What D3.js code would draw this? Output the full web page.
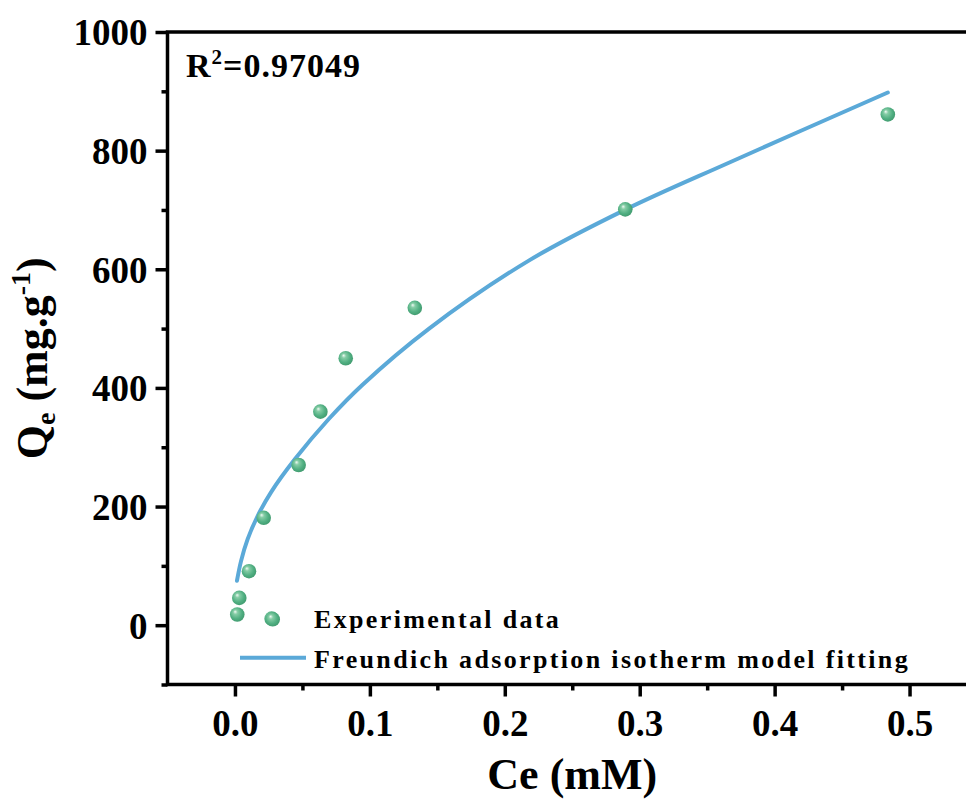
<!DOCTYPE html>
<html>
<head>
<meta charset="utf-8">
<script src="https://cdn.jsdelivr.net/npm/d3@7"></script>
<style>
  html, body { margin: 0; padding: 0; background: #fff; }
  svg { display: block; font-family: "Liberation Serif", "Times New Roman", serif; font-weight: bold; }
</style>
</head>
<body>
<div id="chart"></div>
<script>
// experimental points (Ce in mM, Qe in mg/g)
const expCe = [0.0017, 0.0032, 0.0104, 0.0213, 0.0272, 0.0472, 0.0633, 0.0821, 0.1333, 0.2893, 0.4839];
const expQe = [18, 46, 91, 181, 11, 270, 360, 450, 535, 701, 861];

// Freundlich fit curve
const fitCe = [0.0015, 0.0045, 0.0094, 0.0168, 0.0267, 0.0445, 0.0697, 0.0944, 0.1439, 0.2181, 0.2898, 0.3665, 0.4839];
const fitQe = [75, 108, 145, 184, 224, 280, 348, 405, 500, 615, 701, 780, 898];

const xTicks = [0.0, 0.1, 0.2, 0.3, 0.4, 0.5];
const yTicks = [0, 200, 400, 600, 800, 1000];
const xMinor = [0.05, 0.15, 0.25, 0.35, 0.45];
const yMinor = [-100, 100, 300, 500, 700, 900];

const legendLabels = ['Experimental data', 'Freundich adsorption isotherm model fitting'];

const width = 966, height = 801;
const plotL = 167.5, plotR = 977, plotT = 32, plotB = 684.5;

const lineColor = '#5ba9d8';

const svg = d3.select('#chart')
  .append('svg')
  .attr('width', width)
  .attr('height', height);

// sphere look for the markers
const grad = svg.append('defs').append('radialGradient')
  .attr('id', 'ball')
  .attr('cx', '45%').attr('cy', '45%').attr('r', '60%')
  .attr('fx', '35%').attr('fy', '30%');
grad.append('stop').attr('offset', '0%').attr('stop-color', '#f0faf4');
grad.append('stop').attr('offset', '25%').attr('stop-color', '#86cda6');
grad.append('stop').attr('offset', '65%').attr('stop-color', '#52b083');
grad.append('stop').attr('offset', '100%').attr('stop-color', '#3e986c');

const x = d3.scaleLinear().domain([-0.05, 0.55]).range([plotL, plotR]);
const y = d3.scaleLinear().domain([-100, 1000]).range([plotB, plotT]);

// minor ticks
svg.append('g')
  .attr('transform', `translate(0, ${plotB})`)
  .call(d3.axisBottom(x).tickValues(xMinor).tickSize(6).tickFormat(''))
  .call(g => g.select('.domain').remove())
  .selectAll('line').attr('stroke', '#000').attr('stroke-width', 3.5);

svg.append('g')
  .attr('transform', `translate(${plotL}, 0)`)
  .call(d3.axisLeft(y).tickValues(yMinor).tickSize(6).tickFormat(''))
  .call(g => g.select('.domain').remove())
  .selectAll('line').attr('stroke', '#000').attr('stroke-width', 3.5);

// major ticks + labels
const xAxis = svg.append('g')
  .attr('transform', `translate(0, ${plotB})`)
  .call(d3.axisBottom(x).tickValues(xTicks).tickSize(12).tickPadding(0).tickFormat(d3.format('.1f')));
xAxis.select('.domain').remove();
xAxis.selectAll('line').attr('stroke', '#000').attr('stroke-width', 3.5);
xAxis.selectAll('text')
  .attr('fill', '#000')
  .attr('font-size', 37)
  .attr('font-family', '"Liberation Serif", serif')
  .attr('font-weight', 'bold')
  .attr('dy', null)
  .attr('y', 51);

const yAxis = svg.append('g')
  .attr('transform', `translate(${plotL}, 0)`)
  .call(d3.axisLeft(y).tickValues(yTicks).tickSize(12).tickPadding(8).tickFormat(d3.format('d')));
yAxis.select('.domain').remove();
yAxis.selectAll('line').attr('stroke', '#000').attr('stroke-width', 3.5);
yAxis.selectAll('text')
  .attr('fill', '#000')
  .attr('font-size', 37)
  .attr('font-family', '"Liberation Serif", serif')
  .attr('font-weight', 'bold')
  .attr('dy', '0.35em');

// frame
svg.append('path')
  .attr('d', `M${plotL},${plotT}H${plotR}M${plotL},${plotB}H${plotR}M${plotL},${plotT - 1.75}V${plotB + 1.75}`)
  .attr('fill', 'none')
  .attr('stroke', '#000')
  .attr('stroke-width', 3.5);

// fit curve
const fitData = fitCe.map((c, i) => ({ c, q: fitQe[i] }));
const line = d3.line()
  .x(d => x(d.c))
  .y(d => y(d.q))
  .curve(d3.curveCatmullRom);

svg.append('path')
  .datum(fitData)
  .attr('d', line)
  .attr('fill', 'none')
  .attr('stroke', lineColor)
  .attr('stroke-width', 4)
  .attr('stroke-linecap', 'round');

// experimental points
const expData = expCe.map((c, i) => ({ c, q: expQe[i] }));
svg.append('g')
  .selectAll('circle')
  .data(expData)
  .join('circle')
  .attr('cx', d => x(d.c))
  .attr('cy', d => y(d.q))
  .attr('r', 7.3)
  .attr('fill', 'url(#ball)');

// R^2 annotation
const r2 = svg.append('text')
  .attr('x', 186)
  .attr('y', 77)
  .attr('font-size', 34)
  .attr('letter-spacing', 1)
  .attr('fill', '#000');
r2.append('tspan').text('R');
r2.append('tspan').attr('font-size', 21).attr('dy', -13).text('2');
r2.append('tspan').attr('dy', 13).text('=0.97049');

// legend
const legend = svg.append('g');
legend.append('circle')
  .attr('cx', 272.7).attr('cy', 619.3).attr('r', 7.3)
  .attr('fill', 'url(#ball)');
legend.append('line')
  .attr('x1', 240).attr('x2', 306)
  .attr('y1', 657.7).attr('y2', 657.7)
  .attr('stroke', lineColor)
  .attr('stroke-width', 4);
legend.selectAll('text.lg')
  .data(legendLabels)
  .join('text')
  .attr('class', 'lg')
  .attr('x', 314)
  .attr('y', (d, i) => 628 + i * 40)
  .attr('font-size', 26)
  .attr('letter-spacing', 2.35)
  .attr('fill', '#000')
  .text(d => d);

// axis titles
svg.append('text')
  .attr('x', (plotL + plotR) / 2)
  .attr('y', 789)
  .attr('text-anchor', 'middle')
  .attr('font-size', 44)
  .attr('fill', '#000')
  .text('Ce (mM)');

const yt = svg.append('text')
  .attr('transform', `translate(47, ${(plotT + plotB) / 2}) rotate(-90)`)
  .attr('text-anchor', 'middle')
  .attr('font-size', 44)
  .attr('fill', '#000');
yt.append('tspan').text('Q');
yt.append('tspan').attr('font-size', 28).attr('dy', 8).text('e');
yt.append('tspan').attr('dy', -8).text(' (mg.g');
yt.append('tspan').attr('font-size', 28).attr('dy', -17).text('-1');
yt.append('tspan').attr('dy', 17).text(')');
</script>
</body>
</html>
